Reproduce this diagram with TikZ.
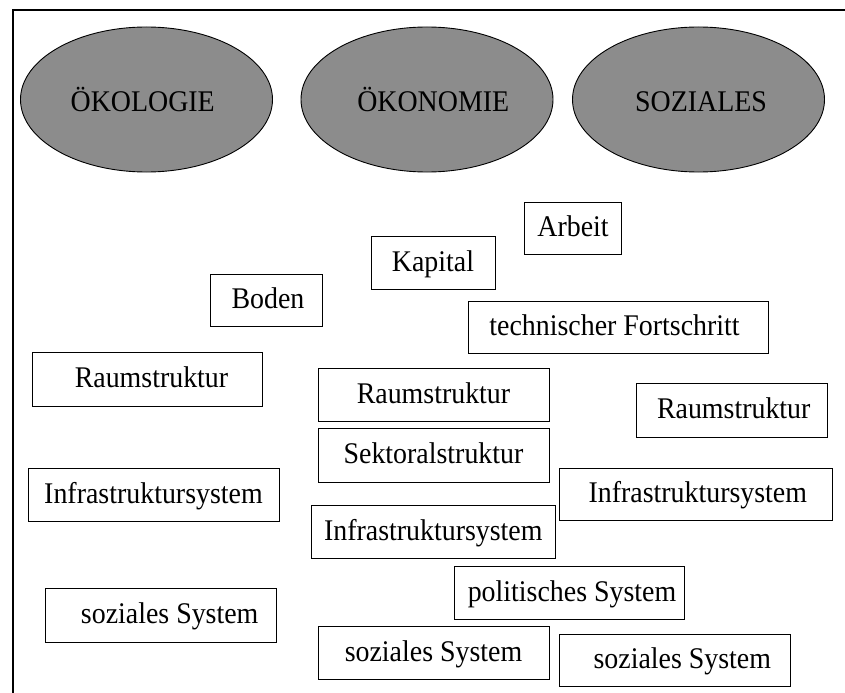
\documentclass[tikz,border=0pt]{standalone}
\usepackage{fontspec}
\setmainfont{Liberation Serif}[FakeStretch=0.93]
\usetikzlibrary{shapes.geometric}
\definecolor{ellgray}{RGB}{140,140,140}
\begin{document}
\begin{tikzpicture}[x=1bp,y=-1bp,
  every node/.style={font=\fontsize{30bp}{34bp}\selectfont},
  ellnode/.style={ellipse,draw=black,line width=0.9bp,fill=ellgray,minimum width=252bp,minimum height=145bp,inner sep=0pt,text height=25bp,text depth=0bp},
  boxnode/.style={rectangle,draw=black,line width=0.9bp,fill=white,inner sep=0pt,text height=17bp,text depth=0bp}]
\useasboundingbox (0,0) rectangle (845,693);
\fill[white] (0,0) rectangle (845,693);
% frame
\coordinate (fa) at (13,693);
\coordinate (fb) at (13,10);
\coordinate (fc) at (845,10);
\draw[line width=2.2bp] (fa) -- (fb) -- (fc);
% ellipses
\node[ellnode] (oek) at (146.5,99.5) {\hspace*{-7.5bp}ÖKOLOGIE};
\node[ellnode] (oekon) at (427,99.5) {\hspace*{12.5bp}ÖKONOMIE};
\node[ellnode] (soz) at (698.5,99.5) {\hspace*{5bp}SOZIALES};
% boxes
\node[boxnode,minimum width=97bp,minimum height=52bp] (arbeit) at (573,228) {Arbeit};
\node[boxnode,minimum width=124bp,minimum height=53bp] (kapital) at (433,262.5) {Kapital};
\node[boxnode,minimum width=112bp,minimum height=52.5bp] (boden) at (266,300.3) {\hspace*{4bp}Boden};
\node[boxnode,minimum width=300bp,minimum height=52bp] (tech) at (618,327) {technischer Fortschritt\hspace*{7bp}};
\node[boxnode,minimum width=230.5bp,minimum height=54bp] (raumL) at (147.5,379.3) {\hspace*{8bp}Raumstruktur};
\node[boxnode,minimum width=231bp,minimum height=53bp] (raumM) at (433.5,394.5) {Raumstruktur};
\node[boxnode,minimum width=191.5bp,minimum height=54bp] (raumR) at (731.75,410) {\hspace*{4bp}Raumstruktur};
\node[boxnode,minimum width=231bp,minimum height=54bp] (sektor) at (433.5,455) {Sektoralstruktur};
\node[boxnode,minimum width=251bp,minimum height=53bp] (infraL) at (153.5,494.5) {Infrastruktursystem};
\node[boxnode,minimum width=272.4bp,minimum height=52bp] (infraR) at (695.8,494) {\hspace*{4bp}Infrastruktursystem};
\node[boxnode,minimum width=243.4bp,minimum height=53bp] (infraM) at (433.3,531.5) {Infrastruktursystem};
\node[boxnode,minimum width=230bp,minimum height=53bp] (polit) at (569.5,592.5) {\hspace*{5bp}politisches System};
\node[boxnode,minimum width=230.7bp,minimum height=54bp] (sozL) at (161.2,615) {\hspace*{17bp}soziales System};
\node[boxnode,minimum width=231bp,minimum height=52.3bp] (sozM) at (433.5,652.9) {soziales System};
\node[boxnode,minimum width=230.4bp,minimum height=52.7bp] (sozR) at (674.8,660.3) {\hspace*{15bp}soziales System};
\end{tikzpicture}
\end{document}
